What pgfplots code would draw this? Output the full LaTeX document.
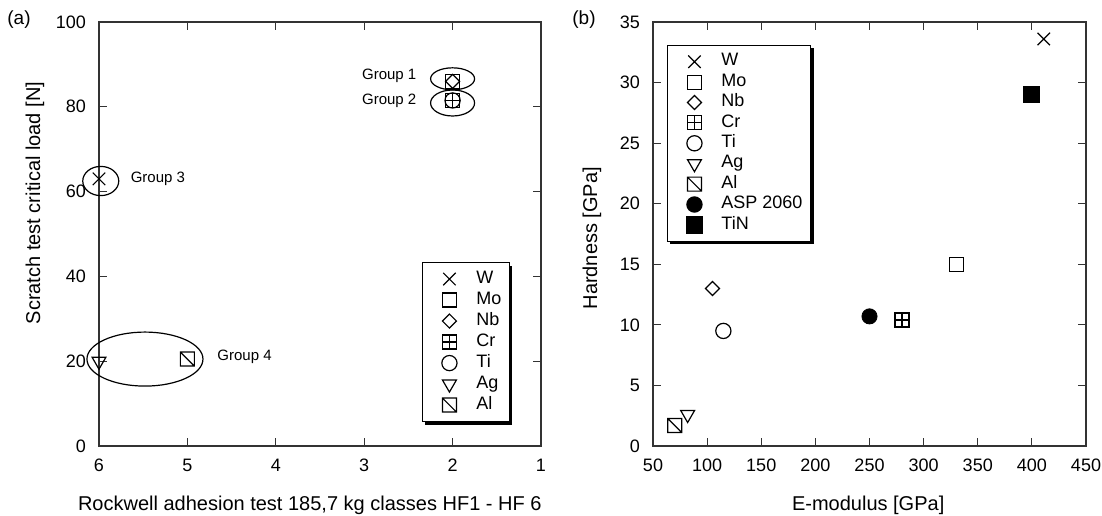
\documentclass[border=0pt]{standalone}
\usepackage{fontspec}
\setmainfont{Liberation Sans}
\usepackage{pgfplots}
\pgfplotsset{compat=1.18}
\usetikzlibrary{shadows}

% square with a plus, square with a diagonal, rotated square, triangle down
\pgfdeclareplotmark{sqplus}{%
  \pgfpathrectangle{\pgfpoint{-\pgfplotmarksize}{-\pgfplotmarksize}}{\pgfpoint{2\pgfplotmarksize}{2\pgfplotmarksize}}%
  \pgfpathmoveto{\pgfpoint{-\pgfplotmarksize}{0pt}}\pgfpathlineto{\pgfpoint{\pgfplotmarksize}{0pt}}%
  \pgfpathmoveto{\pgfpoint{0pt}{-\pgfplotmarksize}}\pgfpathlineto{\pgfpoint{0pt}{\pgfplotmarksize}}%
  \pgfusepathqstroke}
\pgfdeclareplotmark{sqslash}{%
  \pgfpathrectangle{\pgfpoint{-\pgfplotmarksize}{-\pgfplotmarksize}}{\pgfpoint{2\pgfplotmarksize}{2\pgfplotmarksize}}%
  \pgfpathmoveto{\pgfpoint{-\pgfplotmarksize}{\pgfplotmarksize}}\pgfpathlineto{\pgfpoint{\pgfplotmarksize}{-\pgfplotmarksize}}%
  \pgfusepathqstroke}
\pgfdeclareplotmark{dia}{%
  \pgfpathmoveto{\pgfpoint{0pt}{\pgfplotmarksize}}%
  \pgfpathlineto{\pgfpoint{\pgfplotmarksize}{0pt}}%
  \pgfpathlineto{\pgfpoint{0pt}{-\pgfplotmarksize}}%
  \pgfpathlineto{\pgfpoint{-\pgfplotmarksize}{0pt}}%
  \pgfpathclose\pgfusepathqstroke}
\pgfdeclareplotmark{tridown}{%
  \pgfpathmoveto{\pgfpoint{0pt}{-\pgfplotmarksize}}%
  \pgfpathlineto{\pgfpointpolar{150}{\pgfplotmarksize}}%
  \pgfpathlineto{\pgfpointpolar{30}{\pgfplotmarksize}}%
  \pgfpathclose\pgfusepathqstroke}

\pgfplotsset{
  pt/.style={only marks, black,
    legend image code/.code={%
      \path[draw=none,fill=none] (0pt,0pt) (21pt,0pt);
      \draw[##1] plot coordinates {(10.5pt,0pt)};}},
  mW/.style={pt, line width=0.6pt, mark=x, mark size=4.4pt},
  mMo/.style={pt, line width=0.6pt, mark=square, mark size=3.5pt},
  mNb/.style={pt, line width=0.6pt, mark=dia, mark size=3.5pt},
  mCr/.style={pt, line width=0.6pt, mark=sqplus, mark size=3.5pt},
  mTi/.style={pt, line width=0.6pt, mark=o, mark size=3.8pt},
  mAg/.style={pt, line width=0.6pt, mark=tridown, mark size=4pt},
  mAl/.style={pt, line width=0.6pt, mark=sqslash, mark size=3.5pt},
  mASP/.style={pt, mark=*, mark size=3.8pt},
  mTiN/.style={pt, mark=square*, mark size=4pt},
  panel/.style={
    scale only axis, height=212pt, clip=false,
    axis line style={line width=0.8pt, black!80},
    tick style={line width=0.6pt, black!80},
    major tick length=4pt, tick align=inside,
    ticklabel style={font=\fontsize{9}{10}\selectfont},
    /pgf/number format/assume math mode=true,
    xticklabel style={yshift=-3pt},
    yticklabel style={xshift=-3pt},
    label style={font=\fontsize{10}{12}\selectfont},
    legend cell align=left,
    legend style={draw=black, fill=white, line width=0.6pt, inner sep=3pt,
      font=\fontsize{9}{10}\selectfont,
      drop shadow={shadow xshift=1.5pt, shadow yshift=-1.5pt, fill=black, opacity=1},
      column sep=2pt},
  },
}

\begin{document}
\begin{tikzpicture}
\useasboundingbox (-49.5pt,-34.5pt) rectangle (501.5pt,223pt);

% (a) scratch load vs Rockwell class
\begin{axis}[panel, width=221pt,
  xmin=1, xmax=6, x dir=reverse, xtick={1,...,6},
  ymin=0, ymax=100, ytick={0,20,...,100},
  xlabel={Rockwell adhesion test 185,7 kg classes HF1 - HF 6},
  ylabel={Scratch test critical load [N]},
  xlabel style={at={(axis description cs:0.477,-0.139)}, anchor=center},
  ylabel style={at={(axis description cs:-0.145,0.573)}, anchor=center},
  legend style={at={(axis description cs:0.93,0.434)}, anchor=north east,
    nodes={inner sep=1pt, text height=6.5pt, text depth=2pt}},
]
\addplot[mW] coordinates {(6,63)};
\addplot[mMo] coordinates {(2,86)};
\addplot[mNb] coordinates {(2,86)};
\addplot[mCr] coordinates {(2,81.5)};
\addplot[mTi] coordinates {(2,81.5)};
\addplot[mAg] coordinates {(6,20)};
\addplot[mAl] coordinates {(5,20.5)};
\legend{W,Mo,Nb,Cr,Ti,Ag,Al}

\draw[line width=0.6pt] (axis cs:2,86.6) ellipse [x radius=11pt, y radius=5.5pt];
\draw[line width=0.6pt] (axis cs:2,80.9) ellipse [x radius=11pt, y radius=6.5pt];
\draw[line width=0.6pt] (axis cs:5.98,62.5) ellipse [x radius=9pt, y radius=7.3pt];
\draw[line width=0.6pt] (axis cs:5.48,20.5) ellipse [x radius=29pt, y radius=13.5pt];
\begin{scope}[font=\fontsize{7.5}{9}\selectfont]
\node[anchor=east] at (axis cs:2.33,87.2) {Group 1};
\node[anchor=east] at (axis cs:2.33,81.4) {Group 2};
\node[anchor=west] at (axis cs:5.72,63) {Group 3};
\node[anchor=west] at (axis cs:4.74,21) {Group 4};
\end{scope}
\end{axis}

% (b) hardness vs E-modulus
\begin{axis}[panel, width=216.5pt, at={(277pt,0pt)},
  xmin=50, xmax=450, xtick={50,100,...,450},
  ymin=0, ymax=35, ytick={0,5,...,35},
  xlabel={E-modulus [GPa]},
  ylabel={Hardness [GPa]},
  xlabel style={at={(axis description cs:0.497,-0.139)}, anchor=center},
  ylabel style={at={(axis description cs:-0.141,0.49)}, anchor=center},
  legend style={at={(axis description cs:0.032,0.946)}, anchor=north west,
    nodes={inner sep=1pt, text height=6.2pt, text depth=2pt}},
]
\addplot[mW] coordinates {(411,33.6)};
\addplot[mMo] coordinates {(330,15)};
\addplot[mNb] coordinates {(105,13)};
\addplot[mCr] coordinates {(280,10.4)};
\addplot[mTi] coordinates {(115,9.5)};
\addplot[mAg] coordinates {(82,2.6)};
\addplot[mAl] coordinates {(70,1.7)};
\addplot[mASP] coordinates {(250,10.7)};
\addplot[mTiN] coordinates {(400,29)};
\legend{W,Mo,Nb,Cr,Ti,Ag,Al,ASP 2060,TiN}
\end{axis}

\node[font=\fontsize{9.5}{11}\selectfont] at (-40pt,213pt) {(a)};
\node[font=\fontsize{9.5}{11}\selectfont] at (242.5pt,213pt) {(b)};
\end{tikzpicture}
\end{document}
